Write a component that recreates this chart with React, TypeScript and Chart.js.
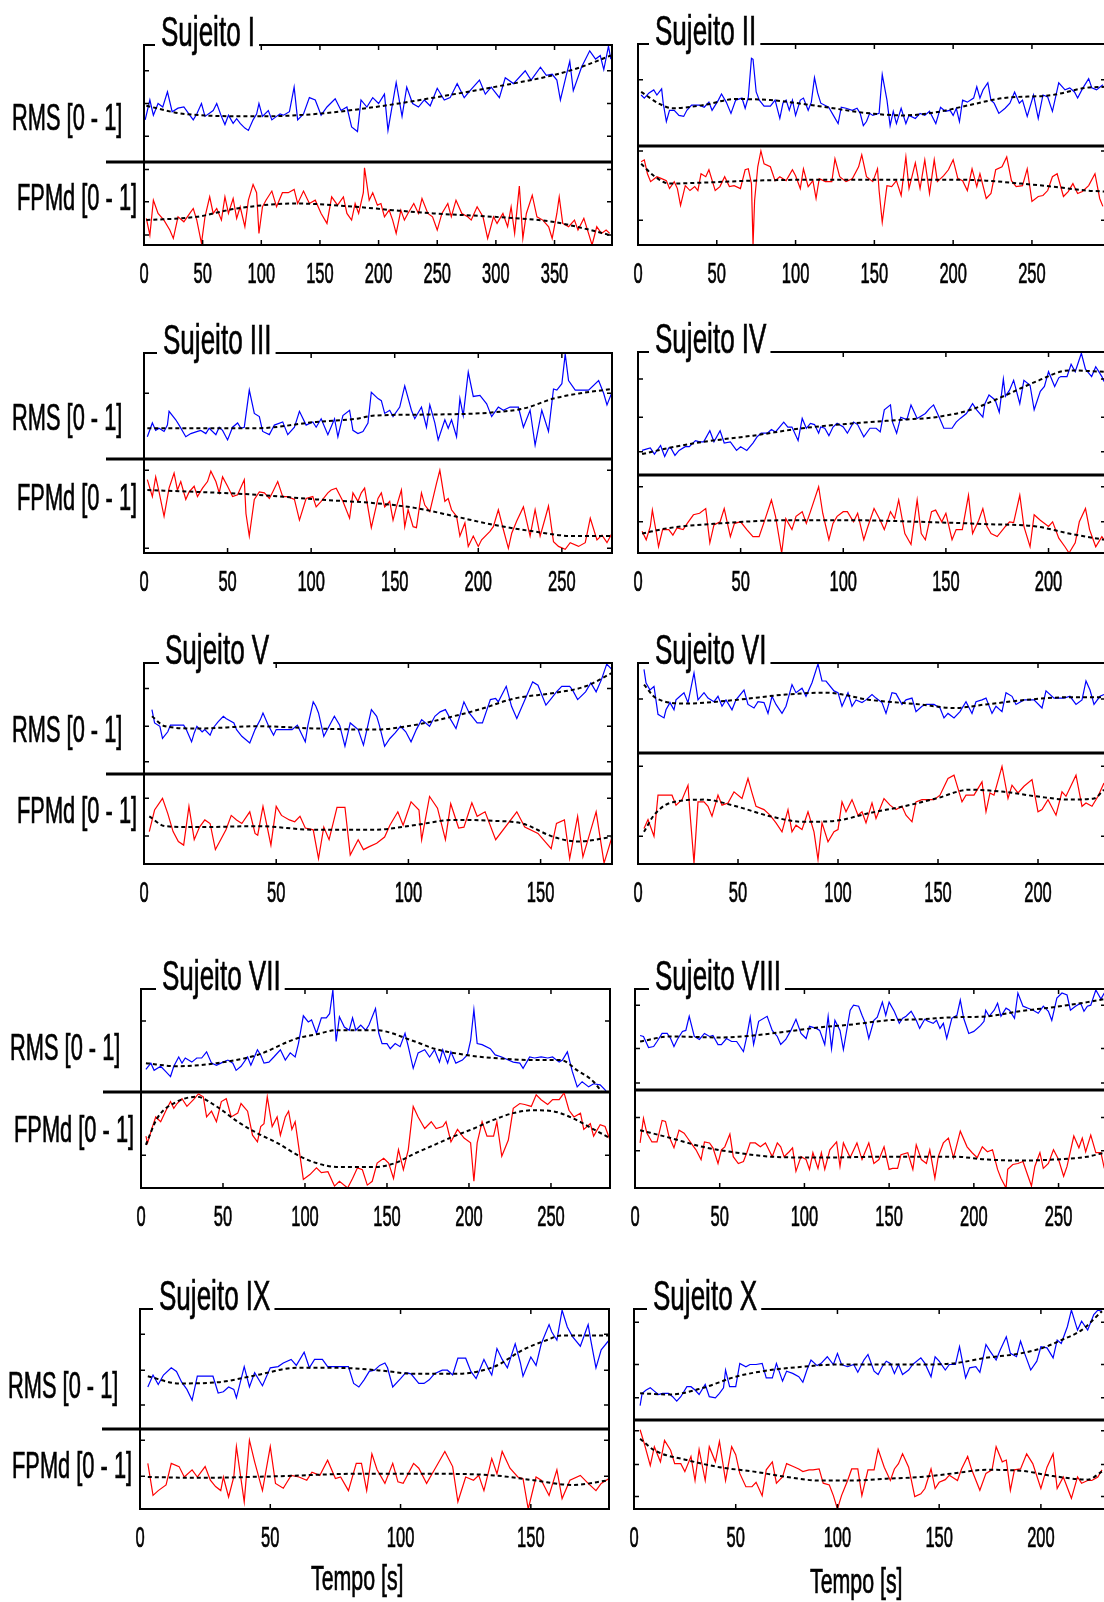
import React, { useEffect, useRef } from "react";
import { Chart, registerables } from "chart.js";

Chart.register(...registerables);

type Pt = [number, number];

// ---------------- data (time [s], normalised value) ----------------
const TITLES = ["Sujeito I", "Sujeito II", "Sujeito III", "Sujeito IV", "Sujeito V", "Sujeito VI", "Sujeito VII", "Sujeito VIII", "Sujeito IX", "Sujeito X"];
const X_MAX = [399, 297, 280, 228, 177, 234, 286, 278, 180, 232];
const X_TICK_STEP = 50;
const RMS_Y_TICKS = [[0.22, 0.5, 0.78], [0.65], [0.62], [0.19, 0.47, 0.78], [0.11, 0.43, 0.77], [0.6], [0.69], [0.07, 0.41, 0.84], [0.2, 0.49, 0.79], [0.2, 0.5, 0.88]];
const FPMD_Y_TICKS = [[0.12, 0.52, 0.91], [0.25, 0.95], [0.05, 0.88], [0.4, 0.85], [0.31, 0.73], [0.25, 0.88], [0.34], [0.38, 0.72], [0.41, 0.86], [0.14, 0.5, 0.88]];
const Y_LABEL_RMS = "RMS [0 - 1]";
const Y_LABEL_FPMD = "FPMd [0 - 1]";
const X_LABEL = "Tempo [s]";

const rms1: Pt[] = [[1,.36],[5,.53],[8,.40],[12,.50],[16,.47],[20,.60],[24,.43],[29,.46],[34,.47],[39,.40],[42,.36],[45,.41],[49,.50],[52,.39],[59,.44],[62,.50],[66,.39],[69,.32],[72,.40],[76,.33],[79,.37],[82,.33],[86,.29],[89,.27],[93,.36],[96,.41],[98,.50],[101,.39],[106,.44],[109,.36],[113,.39],[116,.41],[119,.40],[124,.43],[128,.64],[131,.36],[136,.41],[141,.55],[146,.53],[151,.40],[156,.47],[163,.54],[168,.44],[173,.47],[177,.30],[182,.26],[185,.53],[190,.47],[195,.55],[200,.50],[205,.58],[208,.27],[215,.68],[220,.39],[224,.64],[229,.50],[234,.47],[239,.53],[244,.48],[250,.63],[256,.53],[261,.55],[267,.67],[273,.55],[278,.61],[286,.70],[291,.58],[296,.64],[303,.55],[308,.72],[315,.67],[325,.78],[330,.70],[338,.81],[343,.74],[348,.75],[352,.70],[355,.53],[360,.74],[363,.86],[366,.61],[373,.81],[380,.95],[385,.88],[389,.91],[392,.79],[396,.99],[398,.88]];
const rms1Trend: Pt[] = [[2,.48],[35,.41],[96,.39],[146,.41],[197,.47],[247,.55],[298,.64],[348,.74],[372,.81],[398,.91]];
const fpmd1: Pt[] = [[2,.32],[5,.12],[8,.54],[12,.38],[17,.30],[22,.18],[25,.08],[29,.34],[34,.28],[39,.38],[42,.44],[45,.30],[49,.02],[52,.34],[56,.58],[59,.38],[62,.44],[66,.30],[69,.58],[72,.38],[76,.56],[79,.32],[82,.46],[86,.22],[89,.54],[93,.73],[96,.63],[98,.14],[101,.46],[104,.54],[109,.65],[113,.46],[118,.63],[123,.63],[128,.67],[131,.50],[136,.65],[141,.50],[146,.54],[151,.38],[156,.26],[160,.58],[165,.48],[170,.58],[173,.38],[177,.30],[180,.50],[183,.38],[187,.63],[188,.93],[192,.54],[195,.63],[199,.48],[202,.50],[205,.34],[209,.42],[212,.30],[215,.14],[219,.42],[222,.30],[225,.38],[230,.50],[234,.38],[237,.56],[242,.38],[246,.34],[250,.18],[254,.38],[259,.50],[262,.34],[266,.54],[271,.38],[276,.34],[279,.30],[284,.46],[289,.34],[293,.08],[298,.34],[301,.26],[306,.38],[310,.22],[313,.46],[316,.14],[320,.71],[323,.08],[326,.38],[331,.60],[335,.34],[340,.30],[345,.22],[348,.08],[352,.38],[354,.58],[357,.26],[362,.22],[367,.30],[370,.18],[375,.32],[379,.14],[382,.0],[386,.22],[390,.14],[394,.18],[397,.14]];
const fpmd1Trend: Pt[] = [[2,.30],[45,.34],[79,.44],[130,.50],[180,.46],[212,.42],[247,.38],[298,.34],[348,.28],[375,.20],[397,.12]];

const rms2: Pt[] = [[2,.50],[4,.47],[7,.52],[10,.55],[12,.50],[15,.56],[16,.42],[18,.24],[20,.35],[23,.35],[26,.30],[29,.29],[31,.35],[34,.40],[39,.40],[42,.38],[45,.43],[47,.35],[51,.45],[53,.51],[56,.43],[59,.32],[62,.45],[66,.47],[68,.37],[70,.48],[72,.86],[73,.85],[75,.53],[77,.45],[80,.39],[84,.39],[87,.45],[90,.27],[92,.42],[94,.45],[96,.35],[98,.45],[100,.30],[103,.45],[105,.47],[108,.35],[110,.43],[112,.67],[114,.52],[116,.42],[121,.38],[124,.30],[127,.22],[129,.38],[132,.37],[136,.35],[139,.37],[141,.32],[143,.20],[145,.24],[147,.32],[149,.30],[153,.32],[155,.70],[158,.45],[160,.20],[162,.34],[164,.22],[167,.37],[170,.22],[172,.30],[176,.27],[179,.32],[182,.30],[185,.34],[189,.22],[192,.38],[195,.34],[198,.35],[200,.30],[202,.37],[204,.24],[206,.45],[209,.43],[213,.47],[215,.58],[217,.47],[219,.55],[222,.62],[224,.45],[226,.42],[229,.32],[233,.37],[236,.42],[239,.53],[242,.42],[244,.45],[247,.29],[251,.50],[254,.27],[257,.50],[260,.48],[263,.34],[265,.48],[267,.62],[271,.55],[274,.57],[277,.53],[279,.47],[282,.56],[286,.66],[288,.57],[291,.55],[295,.60]];
const rms2Trend: Pt[] = [[2,.53],[14,.41],[22,.37],[41,.40],[62,.46],[84,.45],[115,.39],[147,.32],[168,.30],[189,.33],[210,.40],[232,.47],[263,.50],[284,.57],[297,.58]];
const fpmd2: Pt[] = [[2,.84],[4,.86],[6,.72],[8,.64],[12,.69],[15,.67],[18,.65],[20,.57],[23,.64],[25,.57],[27,.40],[30,.60],[33,.55],[36,.59],[38,.55],[40,.72],[43,.69],[45,.76],[49,.55],[52,.59],[55,.69],[58,.59],[61,.60],[65,.57],[68,.76],[70,.77],[72,.62],[73,.0],[74,.45],[76,.79],[78,.95],[80,.82],[84,.79],[87,.65],[90,.69],[94,.65],[98,.76],[100,.70],[103,.57],[105,.77],[108,.59],[111,.65],[113,.47],[115,.67],[119,.64],[123,.64],[125,.87],[128,.69],[132,.64],[136,.67],[140,.79],[142,.91],[145,.69],[149,.64],[152,.77],[153,.55],[155,.23],[158,.60],[161,.59],[164,.65],[167,.50],[170,.89],[172,.57],[176,.83],[179,.57],[182,.86],[185,.52],[188,.86],[190,.64],[194,.70],[197,.76],[200,.86],[203,.67],[206,.65],[209,.55],[212,.77],[215,.59],[217,.72],[221,.47],[224,.52],[227,.76],[231,.79],[234,.89],[237,.65],[240,.59],[244,.60],[247,.77],[250,.44],[254,.49],[257,.50],[260,.55],[263,.69],[266,.72],[270,.49],[273,.54],[276,.62],[279,.52],[282,.54],[286,.60],[290,.72],[293,.47],[295,.39]];
const fpmd2Trend: Pt[] = [[2,.82],[10,.70],[20,.62],[41,.63],[73,.65],[115,.66],[158,.66],[200,.66],[221,.65],[243,.62],[263,.59],[285,.55],[297,.54]];

const rms3: Pt[] = [[2,.21],[5,.34],[7,.27],[9,.29],[12,.26],[14,.32],[15,.45],[19,.37],[21,.32],[25,.21],[28,.24],[32,.26],[34,.27],[37,.24],[39,.29],[43,.23],[45,.30],[47,.27],[50,.18],[53,.30],[56,.34],[58,.29],[60,.30],[63,.65],[66,.43],[69,.40],[71,.26],[75,.23],[78,.32],[83,.35],[86,.23],[90,.30],[93,.45],[97,.32],[101,.35],[103,.30],[106,.38],[110,.23],[114,.38],[116,.21],[119,.41],[123,.46],[125,.27],[128,.24],[131,.26],[134,.34],[136,.63],[140,.57],[142,.55],[144,.43],[147,.46],[149,.40],[153,.49],[156,.69],[160,.46],[162,.38],[166,.49],[169,.30],[171,.51],[174,.34],[176,.18],[180,.37],[182,.29],[184,.37],[187,.21],[189,.57],[191,.41],[194,.82],[197,.59],[201,.60],[205,.52],[208,.40],[212,.49],[215,.46],[219,.49],[224,.49],[227,.30],[231,.46],[234,.13],[238,.46],[242,.26],[245,.66],[247,.65],[250,.71],[252,.99],[254,.74],[258,.65],[261,.65],[266,.65],[272,.74],[275,.62],[277,.51],[280,.63]];
const rms3Trend: Pt[] = [[2,.29],[32,.29],[67,.29],[103,.35],[127,.38],[138,.41],[174,.42],[209,.44],[228,.48],[245,.57],[261,.62],[280,.66]];
const fpmd3: Pt[] = [[2,.78],[5,.60],[7,.81],[9,.65],[12,.39],[15,.69],[18,.85],[20,.67],[22,.76],[25,.57],[27,.65],[30,.71],[32,.60],[35,.69],[38,.76],[40,.87],[43,.76],[45,.64],[47,.81],[50,.71],[53,.60],[56,.62],[60,.78],[61,.42],[63,.18],[66,.57],[69,.65],[72,.64],[75,.58],[77,.65],[80,.76],[83,.60],[86,.60],[90,.57],[93,.35],[97,.58],[101,.60],[103,.49],[106,.55],[110,.64],[112,.67],[115,.69],[119,.55],[123,.37],[125,.64],[128,.55],[130,.64],[132,.69],[136,.27],[140,.58],[142,.64],[144,.49],[147,.55],[149,.35],[151,.49],[154,.67],[156,.28],[158,.46],[161,.28],[163,.27],[166,.64],[168,.51],[171,.44],[175,.74],[177,.88],[180,.55],[182,.58],[184,.46],[187,.39],[189,.18],[192,.32],[194,.07],[197,.18],[200,.07],[202,.14],[207,.23],[209,.28],[212,.46],[215,.25],[218,.05],[220,.21],[223,.34],[227,.49],[231,.18],[234,.46],[237,.18],[240,.37],[242,.50],[245,.12],[248,.07],[252,.04],[255,.11],[260,.07],[264,.11],[267,.37],[271,.14],[274,.19],[277,.11],[280,.21]];
const fpmd3Trend: Pt[] = [[2,.67],[32,.65],[67,.62],[103,.57],[138,.53],[162,.48],[186,.39],[209,.30],[233,.23],[257,.18],[280,.18]];

const rms4: Pt[] = [[2,.20],[4,.21],[6,.22],[8,.17],[11,.24],[13,.15],[15,.22],[16,.22],[18,.16],[20,.20],[23,.23],[25,.23],[28,.28],[30,.27],[32,.27],[35,.36],[37,.27],[40,.36],[42,.26],[45,.27],[48,.20],[50,.23],[53,.20],[56,.26],[58,.31],[60,.34],[63,.34],[65,.37],[67,.35],[71,.43],[73,.39],[75,.39],[78,.28],[80,.46],[82,.38],[84,.42],[86,.41],[88,.34],[89,.39],[91,.38],[93,.32],[95,.39],[97,.42],[100,.39],[102,.34],[105,.43],[107,.41],[110,.31],[113,.38],[116,.38],[118,.35],[120,.53],[123,.57],[124,.43],[126,.34],[128,.47],[131,.45],[133,.57],[136,.46],[137,.47],[140,.50],[142,.54],[144,.57],[147,.46],[149,.38],[153,.38],[155,.43],[157,.46],[160,.50],[163,.58],[165,.53],[168,.47],[169,.58],[171,.65],[174,.61],[176,.51],[178,.78],[179,.64],[181,.69],[183,.77],[186,.58],[188,.77],[191,.73],[193,.53],[196,.68],[198,.72],[200,.84],[203,.72],[205,.79],[206,.80],[209,.80],[211,.90],[213,.84],[216,.99],[218,.86],[221,.80],[223,.88],[226,.80],[227,.76]];
const rms4Trend: Pt[] = [[2,.17],[15,.22],[32,.27],[56,.32],[80,.38],[105,.42],[129,.45],[145,.47],[162,.53],[178,.64],[194,.76],[210,.85],[227,.84]];
const fpmd4: Pt[] = [[2,.28],[4,.17],[6,.34],[7,.55],[9,.25],[10,.08],[12,.30],[15,.30],[17,.23],[19,.32],[22,.30],[24,.38],[27,.49],[30,.51],[33,.57],[35,.13],[37,.36],[40,.40],[42,.57],[45,.21],[47,.38],[50,.40],[53,.30],[56,.21],[59,.21],[62,.44],[65,.68],[67,.47],[70,.0],[72,.44],[75,.30],[77,.47],[80,.53],[82,.38],[84,.53],[88,.85],[90,.51],[93,.17],[95,.38],[97,.47],[100,.53],[102,.53],[105,.40],[107,.51],[110,.17],[112,.34],[115,.57],[118,.42],[120,.30],[123,.53],[125,.44],[127,.68],[130,.25],[133,.11],[136,.68],[138,.25],[140,.17],[143,.53],[145,.55],[148,.40],[150,.51],[153,.17],[155,.30],[158,.30],[161,.74],[163,.25],[166,.42],[168,.57],[170,.34],[172,.25],[175,.21],[179,.34],[181,.40],[183,.39],[186,.74],[188,.34],[191,.08],[193,.49],[196,.42],[200,.34],[202,.40],[205,.19],[208,.08],[210,.0],[213,.13],[215,.40],[218,.57],[220,.30],[223,.08],[226,.21],[227,.17]];
const fpmd4Trend: Pt[] = [[2,.25],[15,.32],[40,.38],[72,.42],[105,.42],[137,.40],[170,.37],[194,.34],[210,.25],[227,.17]];

const rms5: Pt[] = [[3,.58],[4,.46],[6,.43],[7,.32],[9,.38],[10,.44],[13,.44],[15,.44],[16,.40],[18,.29],[19,.37],[20,.43],[22,.38],[23,.40],[25,.35],[26,.41],[28,.47],[30,.52],[31,.50],[34,.46],[35,.40],[37,.34],[40,.28],[42,.40],[44,.49],[45,.55],[47,.44],[49,.35],[50,.40],[53,.40],[56,.40],[58,.44],[61,.29],[62,.44],[64,.65],[65,.61],[66,.55],[68,.34],[70,.43],[72,.52],[74,.44],[76,.25],[78,.46],[81,.40],[83,.26],[86,.58],[88,.52],[89,.44],[91,.25],[93,.32],[95,.37],[97,.43],[99,.38],[101,.29],[103,.40],[105,.49],[108,.43],[110,.52],[112,.56],[114,.58],[116,.49],[118,.41],[121,.65],[123,.55],[126,.46],[128,.46],[131,.67],[133,.68],[134,.65],[137,.79],[139,.61],[141,.50],[143,.61],[147,.83],[149,.80],[152,.62],[154,.68],[156,.74],[158,.79],[161,.79],[162,.76],[164,.67],[167,.74],[169,.82],[171,.74],[173,.85],[175,.99],[177,.94]];
const rms5Trend: Pt[] = [[3,.52],[8,.43],[20,.41],[43,.43],[65,.41],[87,.40],[102,.44],[117,.52],[128,.59],[140,.68],[155,.73],[167,.79],[177,.91]];
const fpmd5: Pt[] = [[2,.36],[4,.60],[7,.73],[9,.56],[11,.36],[13,.25],[15,.21],[17,.64],[19,.27],[21,.41],[23,.49],[25,.45],[27,.16],[29,.27],[31,.38],[33,.54],[35,.49],[37,.45],[40,.58],[42,.34],[43,.32],[45,.64],[48,.21],[50,.64],[52,.54],[55,.49],[57,.47],[59,.53],[61,.40],[64,.38],[66,.06],[68,.41],[70,.27],[73,.63],[76,.63],[78,.10],[81,.27],[83,.16],[85,.19],[88,.23],[91,.30],[93,.43],[96,.58],[98,.43],[101,.69],[104,.60],[105,.27],[108,.75],[111,.62],[114,.27],[116,.67],[119,.40],[121,.41],[124,.68],[126,.53],[129,.58],[133,.27],[141,.58],[144,.41],[149,.34],[154,.17],[156,.45],[159,.49],[161,.06],[164,.53],[166,.08],[169,.38],[171,.58],[174,.01],[177,.30]];
const fpmd5Trend: Pt[] = [[2,.53],[8,.42],[20,.41],[43,.42],[65,.38],[87,.38],[102,.43],[117,.49],[132,.48],[143,.45],[155,.30],[164,.25],[177,.30]];

const rms6: Pt[] = [[3,.93],[4,.78],[6,.70],[8,.74],[10,.43],[13,.39],[14,.48],[16,.56],[18,.48],[19,.59],[21,.63],[23,.67],[25,.56],[28,.89],[30,.59],[33,.67],[35,.61],[38,.57],[40,.63],[42,.52],[44,.59],[47,.48],[49,.59],[53,.70],[55,.54],[58,.50],[60,.57],[63,.56],[65,.44],[67,.63],[69,.54],[72,.44],[74,.52],[77,.76],[79,.67],[82,.72],[84,.63],[87,.78],[90,.99],[92,.80],[94,.80],[98,.69],[100,.67],[102,.52],[105,.67],[107,.52],[109,.59],[112,.56],[114,.59],[117,.65],[119,.61],[122,.56],[124,.44],[127,.67],[129,.66],[132,.54],[134,.59],[137,.61],[139,.46],[142,.52],[144,.54],[148,.54],[151,.50],[153,.39],[155,.44],[158,.39],[161,.46],[164,.57],[167,.44],[169,.57],[172,.59],[174,.61],[177,.44],[179,.52],[182,.46],[184,.67],[187,.63],[189,.54],[193,.59],[195,.59],[198,.59],[202,.50],[204,.69],[208,.61],[210,.61],[213,.61],[216,.63],[219,.54],[222,.59],[224,.80],[226,.70],[228,.54],[231,.63],[233,.65]];
const rms6Trend: Pt[] = [[3,.76],[9,.61],[24,.55],[49,.59],[74,.65],[94,.67],[116,.59],[141,.54],[158,.50],[174,.54],[199,.60],[216,.62],[233,.62]];
const fpmd6: Pt[] = [[3,.32],[5,.40],[8,.25],[10,.62],[13,.62],[17,.62],[19,.53],[22,.58],[25,.71],[26,.46],[28,.01],[30,.56],[33,.56],[35,.52],[37,.43],[40,.62],[42,.53],[45,.55],[48,.65],[52,.59],[55,.77],[57,.64],[59,.52],[63,.49],[66,.44],[69,.37],[72,.29],[75,.49],[77,.29],[79,.35],[82,.31],[85,.47],[88,.29],[90,.04],[92,.37],[95,.20],[98,.29],[100,.31],[102,.56],[104,.47],[107,.58],[110,.44],[112,.47],[114,.37],[117,.55],[119,.41],[123,.59],[126,.53],[129,.49],[132,.52],[134,.44],[137,.38],[139,.56],[142,.58],[144,.58],[148,.58],[151,.62],[155,.77],[158,.80],[162,.56],[164,.62],[168,.62],[172,.74],[174,.47],[176,.64],[178,.62],[182,.88],[185,.59],[187,.71],[190,.64],[193,.70],[197,.76],[200,.47],[202,.49],[205,.58],[209,.44],[212,.65],[214,.61],[219,.80],[222,.52],[224,.55],[227,.52],[230,.61],[233,.73]];
const fpmd6Trend: Pt[] = [[3,.29],[8,.44],[16,.55],[33,.58],[49,.52],[66,.43],[83,.38],[99,.39],[116,.46],[133,.52],[149,.59],[166,.67],[183,.65],[199,.61],[216,.58],[228,.59],[233,.67]];

const rms7: Pt[] = [[3,.22],[6,.28],[8,.21],[12,.25],[15,.20],[18,.15],[20,.25],[23,.34],[25,.28],[27,.33],[31,.29],[34,.33],[37,.33],[40,.39],[43,.28],[46,.26],[50,.29],[53,.31],[56,.28],[58,.21],[61,.25],[65,.34],[67,.26],[71,.41],[73,.36],[75,.28],[78,.29],[81,.34],[85,.41],[88,.31],[91,.38],[94,.34],[96,.47],[99,.74],[102,.68],[104,.70],[107,.57],[110,.72],[113,.72],[115,.76],[117,.99],[119,.49],[121,.73],[124,.63],[127,.60],[129,.72],[131,.60],[134,.65],[137,.60],[139,.65],[143,.81],[145,.57],[147,.47],[150,.47],[152,.42],[155,.47],[158,.44],[161,.57],[163,.44],[166,.23],[169,.38],[173,.41],[176,.34],[179,.41],[182,.29],[184,.41],[187,.28],[189,.39],[192,.28],[196,.31],[199,.36],[201,.50],[203,.80],[205,.47],[208,.46],[213,.42],[216,.36],[220,.34],[224,.31],[227,.29],[231,.28],[233,.23],[237,.34],[240,.33],[244,.34],[248,.33],[251,.34],[255,.29],[257,.31],[260,.39],[263,.20],[266,.05],[269,.10],[273,.05],[276,.08],[280,.07],[283,.02],[286,-.05]];
const rms7Trend: Pt[] = [[3,.28],[22,.25],[46,.28],[71,.36],[95,.52],[107,.56],[119,.60],[143,.60],[167,.49],[179,.42],[198,.36],[215,.33],[239,.31],[256,.31],[266,.21],[276,.10],[286,-.12]];
const fpmd7: Pt[] = [[3,.54],[4,.47],[7,.64],[9,.74],[12,.69],[15,.80],[18,.90],[20,.83],[22,.88],[25,.93],[28,.85],[32,.92],[35,.98],[38,.95],[40,.74],[43,.80],[46,.69],[49,.90],[52,.93],[55,.74],[59,.78],[61,.88],[65,.80],[68,.55],[71,.48],[73,.64],[75,.67],[77,.95],[80,.64],[83,.74],[85,.55],[88,.74],[90,.80],[92,.61],[94,.69],[97,.33],[99,.09],[103,.14],[107,.21],[110,.16],[114,.17],[118,.02],[121,.07],[126,.0],[129,.10],[132,.21],[135,.19],[138,.03],[141,.07],[144,.26],[148,.31],[151,.26],[154,.10],[157,.40],[160,.19],[163,.40],[166,.85],[169,.74],[173,.62],[177,.69],[180,.62],[184,.64],[186,.69],[189,.48],[193,.61],[197,.52],[201,.47],[203,.07],[205,.47],[208,.69],[211,.54],[215,.54],[217,.69],[220,.33],[224,.50],[227,.83],[231,.88],[234,.87],[238,.85],[241,.97],[244,.92],[248,.87],[251,.92],[255,.92],[258,.99],[261,.81],[264,.74],[268,.78],[270,.61],[274,.67],[276,.54],[280,.66],[283,.64],[286,.50]];
const fpmd7Trend: Pt[] = [[3,.45],[10,.73],[22,.90],[34,.95],[46,.85],[59,.69],[71,.57],[83,.47],[97,.33],[107,.26],[119,.22],[143,.22],[155,.26],[167,.36],[179,.45],[191,.54],[203,.62],[215,.71],[227,.78],[239,.81],[251,.80],[263,.73],[275,.62],[286,.52]];

const rms8: Pt[] = [[3,.54],[5,.53],[8,.42],[11,.43],[13,.48],[16,.56],[19,.56],[21,.51],[23,.43],[25,.50],[28,.58],[30,.59],[32,.73],[35,.53],[38,.50],[41,.56],[44,.53],[46,.54],[49,.45],[51,.45],[54,.51],[57,.48],[60,.48],[64,.38],[66,.53],[68,.72],[70,.45],[73,.68],[78,.73],[81,.59],[84,.53],[86,.45],[89,.50],[92,.59],[95,.70],[98,.56],[101,.51],[103,.63],[107,.61],[109,.59],[112,.45],[114,.73],[116,.41],[118,.69],[121,.59],[123,.40],[127,.79],[129,.84],[132,.83],[134,.74],[136,.66],[138,.51],[141,.69],[143,.72],[146,.87],[148,.74],[150,.87],[153,.78],[156,.66],[158,.71],[160,.73],[163,.78],[166,.69],[168,.61],[171,.70],[173,.68],[176,.66],[178,.69],[180,.61],[182,.66],[184,.51],[187,.71],[190,.74],[192,.89],[194,.71],[197,.56],[200,.58],[204,.64],[206,.68],[207,.79],[209,.73],[212,.79],[214,.86],[216,.73],[219,.81],[221,.79],[224,.71],[226,.96],[229,.83],[232,.81],[235,.79],[238,.76],[241,.83],[244,.78],[246,.69],[249,.91],[252,.96],[255,.94],[257,.79],[260,.83],[263,.86],[265,.78],[267,.83],[269,.84],[272,.99],[275,.90],[277,.96]];
const rms8Trend: Pt[] = [[3,.48],[21,.53],[50,.52],[70,.54],[90,.58],[109,.62],[129,.65],[149,.69],[168,.70],[188,.72],[208,.73],[227,.78],[247,.82],[267,.87],[277,.90]];
const fpmd8: Pt[] = [[3,.46],[5,.71],[7,.56],[10,.47],[13,.47],[16,.69],[18,.68],[20,.53],[23,.41],[26,.59],[29,.56],[31,.51],[33,.46],[36,.39],[39,.29],[41,.47],[44,.46],[46,.41],[49,.25],[51,.39],[53,.42],[56,.55],[58,.32],[61,.25],[64,.27],[66,.36],[68,.46],[71,.46],[74,.42],[77,.46],[79,.39],[81,.32],[84,.46],[86,.42],[88,.32],[91,.37],[93,.41],[95,.17],[98,.32],[101,.29],[103,.19],[105,.36],[108,.20],[110,.36],[112,.19],[115,.39],[119,.47],[121,.22],[123,.46],[127,.31],[131,.46],[134,.29],[138,.46],[141,.25],[144,.29],[147,.42],[150,.19],[152,.20],[155,.20],[157,.34],[161,.36],[164,.19],[166,.44],[169,.29],[172,.25],[174,.39],[177,.10],[179,.32],[182,.46],[185,.51],[188,.31],[192,.58],[196,.42],[199,.36],[202,.31],[205,.42],[208,.37],[211,.39],[214,.19],[216,.10],[219,.0],[220,.19],[223,.24],[226,.25],[229,.27],[232,.12],[234,.02],[236,.22],[239,.36],[241,.20],[244,.25],[247,.39],[250,.29],[253,.12],[255,.22],[259,.53],[262,.41],[264,.51],[266,.37],[269,.54],[272,.36],[275,.36],[277,.20]];
const fpmd8Trend: Pt[] = [[3,.59],[21,.51],[40,.42],[60,.36],[80,.32],[109,.31],[149,.32],[188,.32],[208,.29],[227,.28],[247,.29],[267,.32],[277,.36]];

const rms9: Pt[] = [[3,.35],[5,.45],[7,.37],[9,.45],[12,.51],[14,.48],[16,.39],[18,.33],[20,.24],[22,.44],[25,.44],[28,.44],[30,.30],[32,.31],[34,.35],[36,.33],[37,.26],[40,.52],[42,.35],[44,.47],[47,.36],[50,.51],[53,.52],[55,.55],[58,.58],[60,.53],[63,.64],[65,.51],[67,.58],[70,.58],[72,.52],[75,.52],[80,.52],[82,.38],[84,.35],[86,.41],[88,.48],[90,.49],[92,.53],[94,.55],[95,.51],[97,.35],[100,.42],[102,.47],[104,.46],[107,.38],[109,.38],[111,.41],[113,.46],[116,.49],[118,.49],[120,.45],[122,.59],[125,.59],[127,.48],[129,.42],[132,.58],[134,.49],[135,.45],[137,.67],[139,.58],[141,.51],[144,.71],[146,.55],[147,.44],[150,.60],[152,.53],[154,.71],[157,.87],[158,.81],[160,.74],[162,.99],[164,.85],[166,.77],[169,.69],[171,.81],[172,.87],[173,.74],[175,.51],[177,.66],[180,.74]];
const rms9Trend: Pt[] = [[3,.44],[15,.38],[30,.39],[45,.45],[60,.51],[75,.51],[91,.49],[106,.46],[121,.46],[136,.52],[147,.66],[156,.74],[162,.78],[171,.78],[180,.78]];
const fpmd9: Pt[] = [[3,.57],[5,.17],[7,.23],[10,.30],[12,.57],[15,.53],[17,.40],[20,.49],[22,.40],[25,.53],[27,.36],[29,.28],[31,.23],[32,.40],[34,.15],[36,.40],[37,.78],[40,.09],[42,.86],[44,.59],[47,.23],[50,.78],[52,.32],[55,.26],[58,.42],[61,.40],[64,.36],[66,.46],[69,.42],[72,.61],[75,.38],[77,.40],[80,.23],[83,.57],[85,.57],[87,.23],[89,.69],[91,.49],[94,.32],[97,.57],[99,.34],[101,.32],[105,.57],[107,.51],[110,.32],[113,.49],[117,.72],[120,.53],[122,.09],[125,.40],[128,.36],[130,.42],[132,.23],[135,.63],[137,.44],[139,.72],[142,.51],[145,.40],[147,.38],[149,.0],[152,.40],[154,.36],[157,.17],[160,.49],[162,.13],[165,.36],[169,.42],[172,.32],[175,.23],[177,.32],[180,.38]];
const fpmd9Trend: Pt[] = [[3,.40],[22,.39],[53,.41],[83,.44],[113,.44],[136,.42],[151,.36],[166,.30],[180,.36]];

const rms10: Pt[] = [[3,.13],[4,.24],[6,.27],[8,.29],[10,.26],[12,.23],[14,.24],[17,.24],[19,.21],[21,.17],[23,.21],[26,.30],[28,.30],[30,.27],[32,.23],[35,.32],[37,.21],[40,.20],[42,.24],[44,.29],[45,.45],[47,.30],[50,.30],[52,.51],[55,.48],[57,.50],[60,.50],[63,.51],[65,.38],[68,.38],[70,.51],[73,.35],[75,.44],[78,.42],[81,.39],[83,.34],[85,.45],[87,.54],[90,.49],[92,.51],[95,.57],[98,.50],[100,.60],[102,.50],[105,.48],[108,.50],[110,.43],[113,.54],[115,.59],[118,.44],[120,.41],[122,.48],[124,.53],[126,.51],[128,.42],[130,.50],[132,.41],[135,.45],[137,.50],[141,.56],[143,.51],[146,.39],[148,.57],[150,.53],[153,.45],[155,.50],[158,.50],[160,.66],[163,.38],[165,.47],[168,.48],[170,.43],[173,.68],[175,.62],[178,.54],[180,.63],[183,.75],[185,.60],[188,.57],[190,.71],[192,.60],[195,.45],[198,.53],[200,.66],[203,.65],[206,.56],[208,.72],[210,.69],[213,.84],[215,.99],[218,.81],[220,.89],[223,.81],[226,.95],[228,.99],[230,.98]];
const rms10Trend: Pt[] = [[3,.24],[18,.23],[34,.29],[50,.39],[67,.45],[83,.48],[100,.50],[124,.50],[141,.50],[157,.51],[173,.56],[190,.60],[201,.65],[210,.72],[220,.81],[230,.98]];
const fpmd10: Pt[] = [[3,.89],[5,.74],[8,.49],[10,.70],[13,.53],[15,.77],[18,.66],[20,.51],[23,.51],[25,.42],[28,.59],[30,.32],[32,.67],[35,.32],[37,.70],[40,.53],[42,.76],[45,.32],[48,.70],[50,.61],[52,.40],[55,.25],[58,.25],[60,.30],[63,.15],[65,.44],[68,.53],[70,.29],[73,.36],[75,.51],[78,.48],[81,.45],[83,.42],[86,.44],[88,.44],[91,.45],[93,.29],[96,.27],[98,.15],[100,.0],[102,.15],[105,.32],[107,.45],[110,.45],[112,.15],[115,.44],[118,.44],[120,.67],[123,.47],[126,.32],[128,.45],[130,.51],[132,.62],[135,.47],[138,.14],[141,.17],[143,.23],[146,.45],[148,.23],[150,.30],[153,.33],[155,.38],[159,.32],[161,.45],[164,.59],[166,.44],[170,.21],[173,.40],[176,.44],[178,.70],[181,.53],[183,.55],[185,.21],[187,.44],[190,.45],[193,.62],[196,.51],[200,.23],[203,.47],[206,.62],[208,.23],[211,.36],[215,.12],[218,.36],[220,.29],[223,.32],[225,.32],[228,.36],[230,.44]];
const fpmd10Trend: Pt[] = [[3,.79],[10,.66],[26,.55],[42,.47],[59,.42],[75,.36],[91,.32],[108,.32],[124,.34],[141,.36],[157,.40],[173,.44],[190,.43],[206,.37],[223,.33],[230,.42]];

const RMS_SERIES = [rms1, rms2, rms3, rms4, rms5, rms6, rms7, rms8, rms9, rms10];
const RMS_TRENDS = [rms1Trend, rms2Trend, rms3Trend, rms4Trend, rms5Trend, rms6Trend, rms7Trend, rms8Trend, rms9Trend, rms10Trend];
const FPMD_SERIES = [fpmd1, fpmd2, fpmd3, fpmd4, fpmd5, fpmd6, fpmd7, fpmd8, fpmd9, fpmd10];
const FPMD_TRENDS = [fpmd1Trend, fpmd2Trend, fpmd3Trend, fpmd4Trend, fpmd5Trend, fpmd6Trend, fpmd7Trend, fpmd8Trend, fpmd9Trend, fpmd10Trend];

// ---------------- layout (page pixels) ----------------
type Box = { l: number; r: number; t: number; d: number; b: number; tx: number; yl?: { rx: number; ry: number; fx: number; fy: number; ext: number }; xl?: { x: number; y: number } };
const BOXES: Box[] = [
  { l: 144, r: 612, t: 45, d: 162, b: 245, tx: 161, yl: { rx: 12, ry: 130, fx: 17, fy: 210, ext: 106 } },
  { l: 638, r: 1106, t: 44, d: 146, b: 245, tx: 655 },
  { l: 144, r: 612, t: 353, d: 459, b: 553, tx: 163, yl: { rx: 12, ry: 430, fx: 17, fy: 510, ext: 106 } },
  { l: 638, r: 1106, t: 352, d: 475, b: 553, tx: 655 },
  { l: 144, r: 612, t: 663, d: 774, b: 864, tx: 165, yl: { rx: 12, ry: 742, fx: 17, fy: 823, ext: 106 } },
  { l: 638, r: 1106, t: 663, d: 753, b: 864, tx: 655 },
  { l: 141, r: 610, t: 989, d: 1092, b: 1188, tx: 162, yl: { rx: 10, ry: 1060, fx: 14, fy: 1142, ext: 103 } },
  { l: 635, r: 1106, t: 989, d: 1090, b: 1188, tx: 655 },
  { l: 140, r: 609, t: 1309, d: 1429, b: 1509, tx: 159, yl: { rx: 8, ry: 1398, fx: 12, fy: 1478, ext: 102 }, xl: { x: 311, y: 1590 } },
  { l: 634, r: 1106, t: 1309, d: 1420, b: 1509, tx: 653, xl: { x: 810, y: 1593 } },
];

const FONT = '"Liberation Sans", Arial, Helvetica, sans-serif';

function narrowText(ctx: CanvasRenderingContext2D, text: string, x: number, y: number, size: number, sx: number, align: CanvasTextAlign) {
  ctx.save();
  ctx.font = `${size}px ${FONT}`;
  ctx.fillStyle = "#000";
  ctx.strokeStyle = "#000";
  ctx.lineWidth = 0.7;
  ctx.textBaseline = "alphabetic";
  ctx.textAlign = align;
  ctx.translate(x, y);
  ctx.scale(sx, 1);
  ctx.fillText(text, 0, 0);
  ctx.strokeText(text, 0, 0);
  ctx.restore();
}

function SubPlot({ kind, idx }: { kind: "rms" | "fpmd"; idx: number }) {
  const ref = useRef<HTMLCanvasElement | null>(null);
  const box = BOXES[idx];
  const isLeft = box.l < 400;
  const cx = isLeft ? 0 : box.l - 10;
  const cr = isLeft ? box.r + 10 : 1112;
  const cy = kind === "rms" ? box.t - 50 : box.d - 4;
  const cb = kind === "rms" ? box.d + 4 : box.b + 100;
  const w = cr - cx;
  const h = cb - cy;
  const plotTop = kind === "rms" ? box.t : box.d;
  const plotBottom = kind === "rms" ? box.d : box.b;

  useEffect(() => {
    const canvas = ref.current;
    if (!canvas) return;
    const xmax = X_MAX[idx];
    const series = kind === "rms" ? RMS_SERIES[idx] : FPMD_SERIES[idx];
    const trend = kind === "rms" ? RMS_TRENDS[idx] : FPMD_TRENDS[idx];
    const yTicks = kind === "rms" ? RMS_Y_TICKS[idx] : FPMD_Y_TICKS[idx];
    const color = kind === "rms" ? "#0000ff" : "#ff0000";

    const decor = {
      id: "matlabFrame",
      afterDraw(chart: any) {
        const ctx: CanvasRenderingContext2D = chart.ctx;
        const a = chart.chartArea;
        const xs = chart.scales.x;
        const ys = chart.scales.y;
        ctx.save();
        // title extent (rms only) — ticks under the title box are hidden
        let tLeft = -1;
        let tRight = -1;
        let tw = 0;
        if (kind === "rms") {
          ctx.font = `42px ${FONT}`;
          tw = ctx.measureText(TITLES[idx]).width * 0.62;
          tLeft = box.tx - cx - 6;
          tRight = box.tx - cx + tw + 4;
        }
        ctx.strokeStyle = "#000";
        ctx.lineWidth = 2;
        ctx.strokeRect(a.left, a.top, a.right - a.left, a.bottom - a.top);
        // inward ticks
        ctx.lineWidth = 1.5;
        ctx.beginPath();
        for (let v = X_TICK_STEP; v < xmax; v += X_TICK_STEP) {
          const px = xs.getPixelForValue(v);
          if (kind === "rms") {
            if (px >= tLeft - 1 && px <= tRight + 1) continue;
            ctx.moveTo(px, a.top);
            ctx.lineTo(px, a.top + 5);
          } else {
            ctx.moveTo(px, a.bottom);
            ctx.lineTo(px, a.bottom - 5);
          }
        }
        for (const t of yTicks) {
          const py = ys.getPixelForValue(t);
          ctx.moveTo(a.left, py);
          ctx.lineTo(a.left + 5, py);
          ctx.moveTo(a.right, py);
          ctx.lineTo(a.right - 5, py);
        }
        ctx.stroke();

        if (kind === "rms") {
          // thick divider between the two sub-plots
          ctx.lineWidth = 3;
          ctx.beginPath();
          const startX = box.yl ? box.yl.ext - cx : a.left;
          ctx.moveTo(startX, a.bottom);
          ctx.lineTo(a.right, a.bottom);
          ctx.stroke();
          // title on a white box breaking the top border
          ctx.fillStyle = "#fff";
          ctx.fillRect(tLeft, a.top - 40, tRight - tLeft, 42);
          narrowText(ctx, TITLES[idx], box.tx - cx, a.top + 1, 42, 0.62, "left");
          if (box.yl) narrowText(ctx, Y_LABEL_RMS, box.yl.rx - cx, box.yl.ry - cy, 37, 0.59, "left");
        } else {
          for (let v = 0; v <= xmax - 5; v += X_TICK_STEP) {
            const px = xs.getPixelForValue(v);
            narrowText(ctx, String(v), px, a.bottom + 38, 30, 0.55, "center");
          }
          if (box.yl) narrowText(ctx, Y_LABEL_FPMD, box.yl.fx - cx, box.yl.fy - cy, 37, 0.59, "left");
          if (box.xl) narrowText(ctx, X_LABEL, box.xl.x - cx, box.xl.y - cy, 35, 0.61, "left");
        }
        ctx.restore();
      },
    };

    const chart = new Chart(canvas, {
      type: "line",
      data: {
        datasets: [
          {
            data: trend.map(([x, y]) => ({ x, y })),
            borderColor: "#000",
            borderWidth: 2,
            borderDash: [4, 3],
            pointRadius: 0,
            tension: 0.4,
            cubicInterpolationMode: "monotone",
            fill: false,
            order: 0,
          },
          {
            data: series.map(([x, y]) => ({ x, y })),
            borderColor: color,
            borderWidth: 1.2,
            pointRadius: 0,
            tension: 0,
            fill: false,
            order: 1,
          },
        ],
      },
      options: {
        animation: false,
        responsive: false,
        devicePixelRatio: 1,
        events: [],
        layout: { padding: { left: box.l - cx, right: cr - box.r, top: plotTop - cy, bottom: cb - plotBottom } },
        plugins: { legend: { display: false }, tooltip: { enabled: false }, title: { display: false } },
        scales: {
          x: { type: "linear", min: 0, max: xmax, display: false },
          y: { type: "linear", min: 0, max: 1, display: false },
        },
      },
      plugins: [decor],
    } as any);
    return () => chart.destroy();
  }, [idx, kind]);

  return <canvas ref={ref} width={w} height={h} style={{ position: "absolute", left: cx, top: cy, width: w, height: h }} />;
}

export default function App() {
  return (
    <div style={{ position: "absolute", left: 0, top: 0, width: 1104, height: 1602, overflow: "hidden", background: "#fff" }}>
      {BOXES.map((_, i) => (
        <React.Fragment key={i}>
          <SubPlot kind="rms" idx={i} />
          <SubPlot kind="fpmd" idx={i} />
        </React.Fragment>
      ))}
    </div>
  );
}
